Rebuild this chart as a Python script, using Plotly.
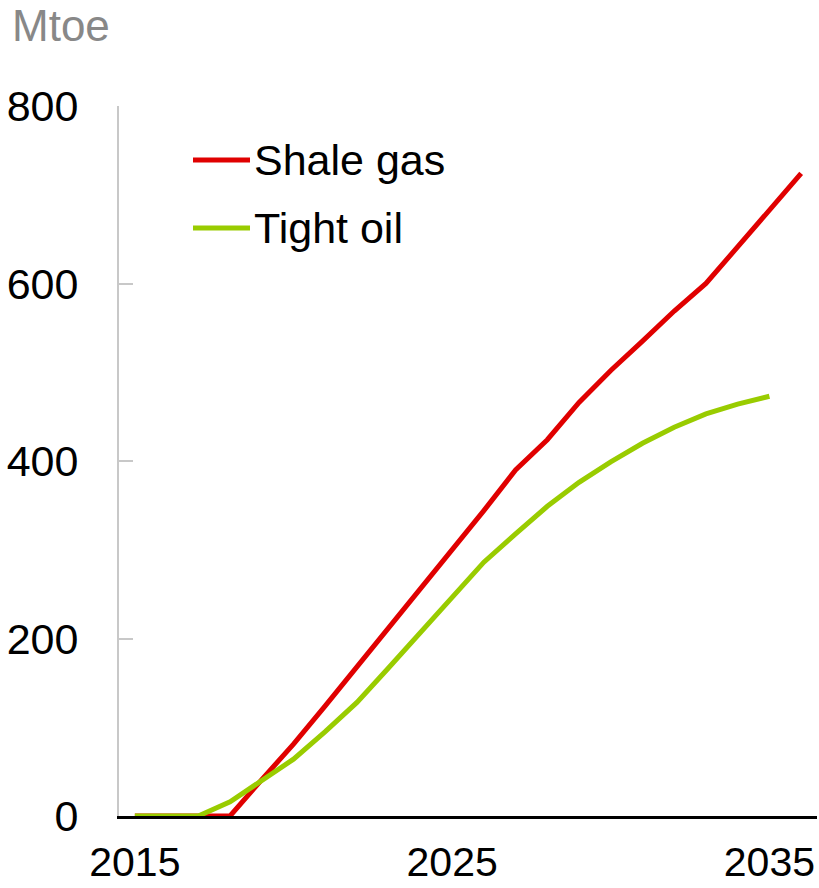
import plotly.graph_objects as go

years_shale = list(range(2015, 2037))
shale_gas = [0, 0, 0, 0, 41, 81, 124, 168, 212, 256, 299, 344, 390, 424, 466,
             502, 535, 569, 600, 641, 683, 724]
years_tight = list(range(2015, 2036))
tight_oil = [0, 0, 0, 16, 40, 64, 95, 128, 167, 206, 246, 286, 318, 349, 376,
             399, 420, 438, 453, 464, 473]

x_ticks = [2015, 2025, 2035]
y_ticks = [0, 200, 400, 600, 800]

RED = "#E00000"
GREEN = "#99CC00"
FONT = "Liberation Sans, Arial, sans-serif"

W, H = 819, 888
L, R, T, B = 119, 2, 106, 72
pw, ph = W - L - R, H - T - B

def px2paper(px, py):
    return (px - L) / pw, (H - B - py) / ph

fig = go.Figure()
fig.add_trace(go.Scatter(x=years_shale, y=shale_gas, mode="lines", name="Shale gas",
                         line=dict(color=RED, width=5), showlegend=False))
fig.add_trace(go.Scatter(x=years_tight, y=tight_oil, mode="lines", name="Tight oil",
                         line=dict(color=GREEN, width=5), showlegend=False))

# legend drawn manually
for name, color, py in [("Shale gas", RED, 160), ("Tight oil", GREEN, 228)]:
    x0, y0 = px2paper(193, py)
    x1, _ = px2paper(250, py)
    fig.add_shape(type="line", xref="paper", yref="paper", x0=x0, x1=x1, y0=y0, y1=y0,
                  line=dict(color=color, width=5))
    tx, _ = px2paper(252, py)
    fig.add_annotation(xref="paper", yref="paper", x=tx, y=y0, text=name,
                       showarrow=False, xanchor="left", yanchor="middle",
                       font=dict(family=FONT, size=43, color="black"))

mx, my = px2paper(10, 26)
fig.add_annotation(xref="paper", yref="paper", x=mx, y=my, text="Mtoe",
                   showarrow=False, xanchor="left", yanchor="middle",
                   font=dict(family=FONT, size=44, color="#888888"))

fig.update_layout(
    width=W, height=H,
    margin=dict(l=L, r=R, t=T, b=B, autoexpand=False),
    paper_bgcolor="white", plot_bgcolor="white",
    showlegend=False,
    font=dict(family=FONT, size=42, color="black"),
)
fig.update_xaxes(range=[2014.5, 2036.5], tickvals=x_ticks, ticktext=[str(v) for v in x_ticks],
                 showline=True, linecolor="black", linewidth=2.5, showgrid=False,
                 zeroline=False, ticks="", ticklabelstandoff=8, layer="below traces",
                 automargin=False,
                 tickfont=dict(family=FONT, size=41, color="black"))
fig.update_yaxes(range=[0, 800], tickvals=y_ticks, showline=True, linecolor="#C8C8C8",
                 linewidth=2, showgrid=False, zeroline=False, ticks="inside", ticklen=14,
                 tickwidth=2, tickcolor="#C8C8C8", ticklabelstandoff=30, layer="below traces",
                 automargin=False,
                 tickfont=dict(family=FONT, size=43, color="black"))

fig.write_html("out.html", config={"displayModeBar": False},
               post_script="document.body.style.margin='0';document.body.style.overflow='hidden';")
